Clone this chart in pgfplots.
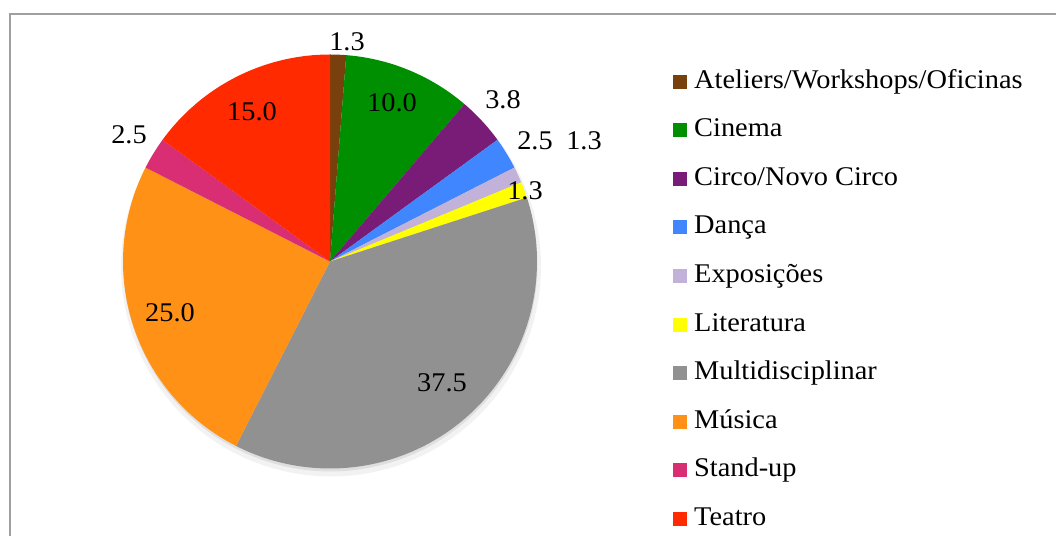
\documentclass[border=0pt]{standalone}
\usepackage{fontspec}
\setmainfont{Liberation Serif}[FakeStretch=1.05]
\usepackage{pgfplots}
\pgfplotsset{compat=1.18}
\definecolor{cAte}{HTML}{77400D}
\definecolor{cCin}{HTML}{008F00}
\definecolor{cCir}{HTML}{781C78}
\definecolor{cDan}{HTML}{4086FF}
\definecolor{cExp}{HTML}{C2B2D9}
\definecolor{cLit}{HTML}{FFFF00}
\definecolor{cMul}{HTML}{919191}
\definecolor{cMus}{HTML}{FF9216}
\definecolor{cSta}{HTML}{D92E74}
\definecolor{cTea}{HTML}{FF2A00}
\definecolor{frame}{HTML}{A0A0A0}
% pie centre (cx,cy) and radius r, in the axis' pixel-like units
\def\cx{330}\def\cy{274.5}\def\r{207}
\begin{document}
\begin{tikzpicture}
\begin{axis}[
  name=pie,
  hide axis, scale only axis,
  width=1056bp, height=536bp,
  xmin=0, xmax=1056, ymin=0, ymax=536,
  clip=true,
  font=\fontsize{27bp}{32bp}\selectfont,
  legend cell align=left,
  legend image code/.code={\fill[#1,draw=none] (0bp,-7bp) rectangle (14bp,7bp);},
  legend style={at={(axis cs:673,466)}, anchor=north west, draw=none, fill=none,
    inner sep=0pt, column sep=7bp, row sep=25.6bp,
    nodes={inner sep=0pt, text height=18bp, text depth=5bp},
    font=\fontsize{27bp}{32bp}\selectfont},
]
% frame
\addplot[draw=frame, line width=2bp, forget plot] coordinates {(10,0) (10,522) (1056,522)};
% soft shadow
\addplot[fill=black, fill opacity=0.05, draw=none, domain=0:360, samples=120, forget plot]
  ({\cx+1+(\r+3)*cos(x)}, {\cy-5+(\r+3)*sin(x)}) -- cycle;
\addplot[fill=black, fill opacity=0.08, draw=none, domain=0:360, samples=120, forget plot]
  ({\cx+0.5+\r*cos(x)}, {\cy-3+\r*sin(x)}) -- cycle;
% wedges: shares (percent) 1.25, 10, 3.75, 2.5, 1.25, 1.25, 37.5, 25, 2.5, 15
% angle = 90 - 3.6*cumulative share, clockwise from 12 o'clock
\addplot[fill=cAte, draw=none, domain=85.5:90, samples=5] ({\cx+\r*cos(x)}, {\cy+\r*sin(x)}) -- (axis cs:\cx,\cy) -- cycle;
\addlegendentry{Ateliers/Workshops/Oficinas}
\addplot[fill=cCin, draw=none, domain=49.5:85.5, samples=30] ({\cx+\r*cos(x)}, {\cy+\r*sin(x)}) -- (axis cs:\cx,\cy) -- cycle;
\addlegendentry{Cinema}
\addplot[fill=cCir, draw=none, domain=36:49.5, samples=12] ({\cx+\r*cos(x)}, {\cy+\r*sin(x)}) -- (axis cs:\cx,\cy) -- cycle;
\addlegendentry{Circo/Novo Circo}
\addplot[fill=cDan, draw=none, domain=27:36, samples=9] ({\cx+\r*cos(x)}, {\cy+\r*sin(x)}) -- (axis cs:\cx,\cy) -- cycle;
\addlegendentry{Dança}
\addplot[fill=cExp, draw=none, domain=22.5:27, samples=5] ({\cx+\r*cos(x)}, {\cy+\r*sin(x)}) -- (axis cs:\cx,\cy) -- cycle;
\addlegendentry{Exposições}
\addplot[fill=cLit, draw=none, domain=18:22.5, samples=5] ({\cx+\r*cos(x)}, {\cy+\r*sin(x)}) -- (axis cs:\cx,\cy) -- cycle;
\addlegendentry{Literatura}
\addplot[fill=cMul, draw=none, domain=-117:18, samples=100] ({\cx+\r*cos(x)}, {\cy+\r*sin(x)}) -- (axis cs:\cx,\cy) -- cycle;
\addlegendentry{Multidisciplinar}
\addplot[fill=cMus, draw=none, domain=-207:-117, samples=70] ({\cx+\r*cos(x)}, {\cy+\r*sin(x)}) -- (axis cs:\cx,\cy) -- cycle;
\addlegendentry{Música}
\addplot[fill=cSta, draw=none, domain=-216:-207, samples=9] ({\cx+\r*cos(x)}, {\cy+\r*sin(x)}) -- (axis cs:\cx,\cy) -- cycle;
\addlegendentry{Stand-up}
\addplot[fill=cTea, draw=none, domain=-270:-216, samples=45] ({\cx+\r*cos(x)}, {\cy+\r*sin(x)}) -- (axis cs:\cx,\cy) -- cycle;
\addlegendentry{Teatro}
% data labels
\addplot[draw=none, mark=none, forget plot, nodes near coords, point meta=explicit symbolic,
  nodes near coords align=center,
  every node near coord/.append style={inner sep=0pt, font=\fontsize{27bp}{32bp}\selectfont}]
  table[meta=label] {
x y label
347 494 1.3
392 433 10.0
503 436 3.8
535 395 2.5
584 395 1.3
525 345 1.3
442 153 37.5
170 223 25.0
129 401 2.5
252 424 15.0
};
\end{axis}
\pgfresetboundingbox
\path (pie.south west) rectangle (pie.north east);
\end{tikzpicture}
\end{document}
